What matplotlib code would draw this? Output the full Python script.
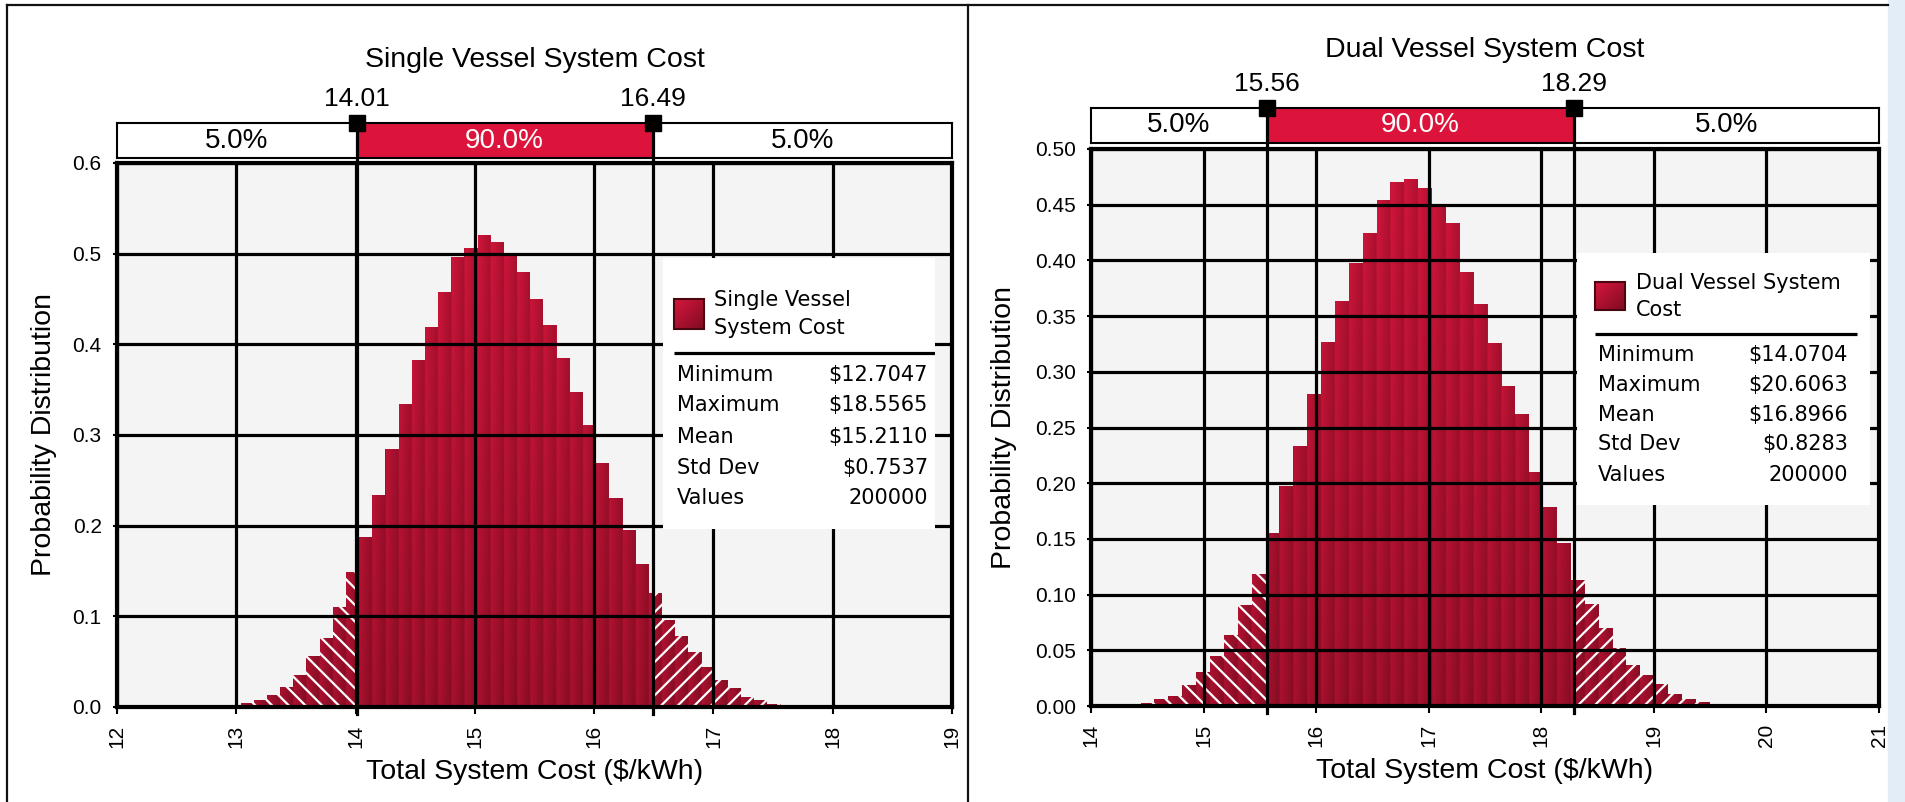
import numpy as np
import matplotlib
matplotlib.use("Agg")
import matplotlib.pyplot as plt
from matplotlib.path import Path
from matplotlib.patches import Rectangle
from matplotlib.lines import Line2D
from matplotlib.ticker import FormatStrFormatter

plt.rcParams['font.family'] = ['Liberation Sans', 'DejaVu Sans']
plt.rcParams['hatch.linewidth'] = 1.6

W, H = 1905, 802

single_title = "Single Vessel System Cost"
single_name = ["Single Vessel", "System Cost"]
single_range = (12.7047, 18.5565)
single_cut = (14.01, 16.49)
single_heights = [0, 0, 0.001, 0.004, 0.008, 0.0136, 0.0225, 0.0357, 0.0567, 0.0766,
                  0.1098, 0.149, 0.187, 0.2335, 0.2843, 0.334, 0.3827, 0.419, 0.4578, 0.4965,
                  0.5064, 0.5208, 0.5131, 0.498, 0.480, 0.450, 0.421, 0.385, 0.347, 0.311,
                  0.269, 0.231, 0.195, 0.158, 0.126, 0.0965, 0.0788, 0.0611, 0.0446, 0.0302,
                  0.0214, 0.0114, 0.0081, 0.0037, 0.001, 0, 0, 0, 0, 0,
                  0, 0, 0]
single_stats = ["$12.7047", "$18.5565", "$15.2110", "$0.7537", "200000"]
single_xticks = [12, 13, 14, 15, 16, 17, 18, 19]
single_yticks = [0.0, 0.1, 0.2, 0.3, 0.4, 0.5, 0.6]

dual_title = "Dual Vessel System Cost"
dual_name = ["Dual Vessel System", "Cost"]
dual_range = (14.0704, 20.6063)
dual_cut = (15.56, 18.29)
dual_heights = [0, 0, 0, 0.0024, 0.006, 0.009, 0.0189, 0.0305, 0.0449, 0.0638,
                0.0907, 0.1183, 0.1554, 0.1976, 0.2335, 0.2802, 0.327, 0.3638, 0.398, 0.4249,
                0.4543, 0.470, 0.4733, 0.465, 0.4488, 0.4337, 0.3896, 0.361, 0.3258, 0.2873,
                0.2621, 0.2099, 0.1786, 0.1464, 0.1128, 0.0915, 0.0703, 0.052, 0.0371, 0.0278,
                0.0193, 0.0107, 0.006, 0.0037, 0.001, 0, 0, 0, 0, 0,
                0, 0, 0]
dual_stats = ["$14.0704", "$20.6063", "$16.8966", "$0.8283", "200000"]
dual_xticks = [14, 15, 16, 17, 18, 19, 20, 21]
dual_yticks = [0.00, 0.05, 0.10, 0.15, 0.20, 0.25, 0.30, 0.35, 0.40, 0.45, 0.50]

stat_names = ["Minimum", "Maximum", "Mean", "Std Dev", "Values"]
band_labels = ["5.0%", "90.0%", "5.0%"]

RED = '#DC143C'
LIGHT = np.array([214, 22, 60]) / 255
DARK = np.array([128, 12, 34]) / 255

fig = plt.figure(figsize=(W / 100, H / 100), dpi=100)


def px_axes(x0, y0, x1, y1):
    return fig.add_axes([x0 / W, 1 - y1 / H, (x1 - x0) / W, (y1 - y0) / H])


def panel(plot_box, band_box, title, title_xy, rng, cut, heights, xticks, yticks, yfmt,
          ypad, legend_box, lay, name, stats):
    ax = px_axes(*plot_box)
    ax.set_facecolor('#f4f4f4')
    xlim = (xticks[0], xticks[-1])
    ylim = (yticks[0], yticks[-1])
    heights = np.array(heights)
    edges = np.linspace(rng[0], rng[1], len(heights) + 1)
    width = edges[1] - edges[0]

    # bar shapes, filled with a shaded texture clipped to them
    bars = ax.bar(edges[:-1], heights, width=width, align='edge', color='none', linewidth=0)
    outline = Path.make_compound_path(*[b.get_path().transformed(b.get_patch_transform()) for b in bars])
    X, Y = np.meshgrid(np.linspace(*xlim, 1600), np.linspace(*ylim, 400))
    t = np.clip(0.45 * (((X - rng[0]) / width) % 1) + 0.5 * (1 - Y / ylim[1]), 0, 1)
    img = LIGHT + (DARK - LIGHT) * t[..., None]
    im = ax.imshow(img, extent=[*xlim, *ylim], origin='lower', aspect='auto',
                   interpolation='bilinear', zorder=1)
    im.set_clip_path(outline, ax.transData)

    # hatched tails outside the 90% band
    lo, hi = cut
    left_w = np.clip(np.minimum(edges[1:], lo) - edges[:-1], 0, None)
    ax.bar(edges[:-1], heights, width=left_w, align='edge', facecolor='none',
           edgecolor='white', linewidth=0, hatch='\\\\', zorder=1.5)
    right_x = np.maximum(edges[:-1], hi)
    right_w = np.clip(edges[1:] - right_x, 0, None)
    ax.bar(right_x, heights, width=right_w, align='edge', facecolor='none',
           edgecolor='white', linewidth=0, hatch='//', zorder=1.5)

    ax.set_xlim(xlim)
    ax.set_ylim(ylim)
    ax.set_xticks(xticks)
    ax.set_yticks(yticks)
    ax.yaxis.set_major_formatter(FormatStrFormatter(yfmt))
    ax.grid(True, color='black', linewidth=2.3)
    ax.set_axisbelow(False)
    for s in ax.spines.values():
        s.set_linewidth(3)
    ax.tick_params(axis='x', labelrotation=90, labelsize=15, length=5, width=1.5, pad=8)
    ax.tick_params(axis='y', labelsize=15, length=3, width=1.5, pad=8)
    ax.set_xlabel('Total System Cost ($/kWh)', fontsize=20.5, labelpad=8)
    ax.set_ylabel('Probability Distribution', fontsize=20.5, labelpad=ypad)
    for v in cut:
        ax.axvline(v, ymin=-0.012, ymax=1.015, color='black', lw=2.3, clip_on=False, zorder=5)

    # percentile band above the plot
    band = px_axes(*band_box)
    band.set_xlim(xlim)
    band.set_ylim(0, 1)
    band.set_xticks([])
    band.set_yticks([])
    for s in band.spines.values():
        s.set_linewidth(1.5)
    band.axvspan(lo, hi, color=RED)
    band.text((xlim[0] + lo) / 2, 0.5, band_labels[0], ha='center', va='center', fontsize=20)
    band.text((lo + hi) / 2, 0.5, band_labels[1], ha='center', va='center', fontsize=20, color='white')
    band.text((hi + xlim[1]) / 2, 0.5, band_labels[2], ha='center', va='center', fontsize=20)
    for v in cut:
        band.axvline(v, color='black', lw=2.3)
        band.annotate(f'{v:.2f}', xy=(v, 1), xytext=(0, 17), textcoords='offset points',
                      ha='center', va='center', fontsize=19)
    band.plot(cut, [1, 1], 's', ms=12, color='black', clip_on=False)

    fig.text(title_xy[0] / W, 1 - title_xy[1] / H, title, ha='center', va='center', fontsize=20.5)

    # statistics legend box
    bw, bh = legend_box[2] - legend_box[0], legend_box[3] - legend_box[1]
    lg = px_axes(*legend_box)
    lg.set_facecolor('white')
    lg.set_xticks([])
    lg.set_yticks([])
    for s in lg.spines.values():
        s.set_visible(False)
    sx0, sy0, sx1, sy1 = lay['square']
    gx, gy = np.meshgrid(np.linspace(0, 1, 20), np.linspace(0, 1, 20))
    sq = LIGHT + (DARK - LIGHT) * ((gx + gy) / 2)[..., None]
    lg.imshow(sq, extent=[sx0, sx1, sy1, sy0], origin='upper', aspect='auto')
    lg.add_patch(Rectangle((sx0, sy0), sx1 - sx0, sy1 - sy0, facecolor='none',
                           edgecolor='#4a0610', lw=1.5))
    lg.set_xlim(0, bw)
    lg.set_ylim(bh, 0)
    for line, yy in zip(name, lay['name_y']):
        lg.text(lay['name_x'], yy, line, va='center', fontsize=15, family='DejaVu Sans')
    lg.plot(lay['sep_x'], [lay['sep_y']] * 2, color='black', lw=2.3, solid_capstyle='butt')
    for label, value, yy in zip(stat_names, stats, lay['rows']):
        lg.text(lay['label_x'], yy, label, va='center', fontsize=15, family='DejaVu Sans')
        lg.text(lay['value_x'], yy, value, va='center', ha='right', fontsize=15, family='DejaVu Sans')


panel((117, 163, 952, 707), (117, 122.7, 952, 158.3), single_title, (534.5, 60),
      single_range, single_cut, single_heights, single_xticks, single_yticks, '%.1f', 11,
      (663, 258, 935, 529),
      dict(square=(11, 41, 41, 71), name_x=51, name_y=(42, 70), sep_x=(11, 272), sep_y=95,
           rows=(117, 147, 179, 210, 240), label_x=14, value_x=265),
      single_name, single_stats)

panel((1091, 149, 1879, 706), (1091, 107.7, 1879, 143.3), dual_title, (1485, 50),
      dual_range, dual_cut, dual_heights, dual_xticks, dual_yticks, '%.2f', 13,
      (1577, 253, 1870, 505),
      dict(square=(18, 29, 48, 57), name_x=59, name_y=(30, 57), sep_x=(18, 280), sep_y=81,
           rows=(102, 132, 162, 191, 222), label_x=21, value_x=271),
      dual_name, dual_stats)

# window frame of the screenshot
fig.add_artist(Rectangle((1888 / W, 0), 17 / W, 1, transform=fig.transFigure,
                         color='#e3edf8', zorder=-1))
fig.add_artist(Line2D([7 / W, 1888 / W], [1 - 5 / H] * 2, transform=fig.transFigure,
                      color='#111111', lw=1.6))
fig.add_artist(Line2D([7 / W] * 2, [0, 1 - 5 / H], transform=fig.transFigure,
                      color='#111111', lw=1.6))
fig.add_artist(Line2D([968 / W] * 2, [0, 1 - 5 / H], transform=fig.transFigure,
                      color='#111111', lw=1.6))

fig.savefig('out.png', dpi=100)
